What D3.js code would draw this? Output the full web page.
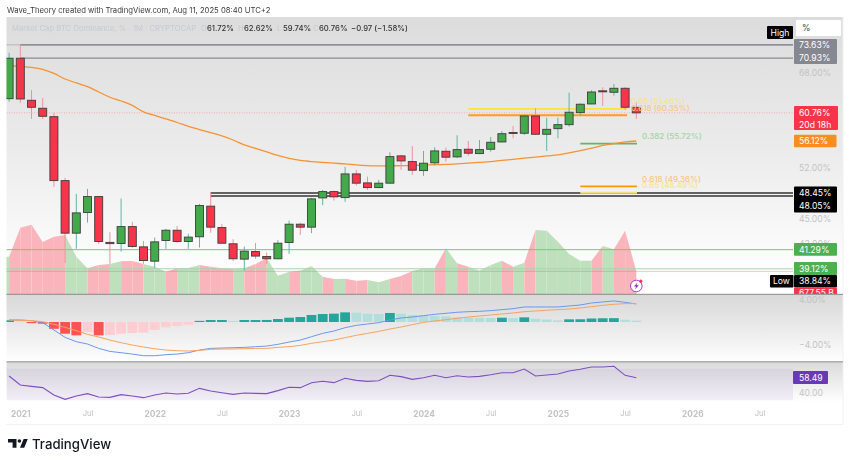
<!DOCTYPE html>
<html>
<head>
<meta charset="utf-8">
<script src="https://cdnjs.cloudflare.com/ajax/libs/d3/7.8.5/d3.min.js"></script>
<style>
  body { margin: 0; background: #fff; }
  svg { display: block; filter: blur(0.3px); font-family: Inter, "Noto Sans", sans-serif; }
</style>
</head>
<body>
<svg id="chart" width="850" height="463"></svg>
<script>
// monthly candles, Dec 2020 to Aug 2025
const opens = [63.24,70.9,62.96,61.56,60.11,50.18,43.26,45.85,47.97,42.15,42.01,44.07,41.62,39.97,42.37,43.62,42.25,42.82,46.69,43.95,41.98,40.2,41.07,40.5,40.24,42.13,44.37,44.0,47.79,48.65,47.83,51.14,49.86,49.2,49.82,53.81,52.95,51.62,52.76,54.52,53.66,54.83,54.16,54.83,55.97,57.49,57.36,60.23,57.2,58.11,58.77,60.8,62.31,64.66,64.4,65.13,61.72];
const highs = [72.0,73.63,64.81,63.37,60.75,50.57,48.34,49.02,48.06,43.38,47.7,44.66,42.33,42.73,43.79,44.16,43.18,46.99,48.57,44.41,42.53,41.66,42.09,40.96,42.41,44.82,44.57,47.79,48.88,48.78,52.16,51.72,50.75,50.28,54.37,53.96,55.34,54.57,55.14,55.08,57.04,56.12,56.28,56.76,57.73,58.55,60.23,61.56,59.94,59.94,64.32,62.43,64.76,65.31,65.93,65.37,62.62];
const lows = [62.7,62.49,59.72,59.72,49.3,39.78,41.39,44.57,41.98,39.67,41.07,41.51,39.67,39.22,41.39,42.09,41.39,41.54,43.3,42.03,40.01,38.92,40.24,39.67,40.2,40.81,43.05,43.26,46.82,47.43,47.26,49.48,48.88,49.12,49.76,51.72,51.0,50.86,52.36,52.95,53.46,53.81,54.07,54.46,55.92,56.55,57.08,57.08,54.56,56.55,58.44,60.29,62.26,61.96,63.78,61.26,59.74];
const closes = [70.9,63.19,61.73,60.18,50.18,43.26,45.81,47.97,42.25,42.0,44.07,41.66,40.04,42.21,43.62,42.25,42.78,46.77,44.0,42.05,40.24,41.12,40.55,40.24,42.05,44.37,44.0,47.66,48.65,47.93,51.14,49.82,49.2,49.82,53.7,53.05,51.68,52.71,54.57,53.61,54.77,54.22,54.77,55.92,57.29,57.33,60.23,57.2,58.0,58.77,60.87,62.26,64.45,64.48,65.13,61.73,60.76];
const ema = [69.46,69.26,69.07,68.68,67.91,66.86,66.11,65.42,64.45,63.5,62.83,62.05,60.92,60.32,59.72,59.13,58.5,57.97,57.46,56.92,56.28,55.5,54.95,54.42,53.88,53.43,53.13,52.95,52.83,52.71,52.61,52.46,52.36,52.31,52.31,52.34,52.38,52.41,52.49,52.53,52.61,52.71,52.83,52.95,53.13,53.28,53.46,53.63,53.81,53.96,54.27,54.61,55.0,55.42,55.7,55.97,56.12];
// market cap in billions, drawn as the shaded area
const volumes = [1119,1989,2079,1560,1719,1770,1119,771,870,900,981,990,900,819,669,771,780,870,819,771,750,771,900,1071,549,669,699,840,519,450,459,399,420,351,450,540,690,771,771,1371,921,819,699,870,999,819,939,1920,1899,1569,1200,999,999,1440,1341,1899,677.55];
const macd = [0.35,0.35,0.24,-0.12,-1.41,-2.71,-3.47,-3.88,-4.65,-5.18,-5.41,-5.65,-5.94,-5.94,-5.76,-5.65,-5.41,-4.94,-4.65,-4.59,-4.53,-4.47,-4.35,-4.24,-3.94,-3.53,-3.18,-2.59,-2.0,-1.59,-1.0,-0.59,-0.35,-0.12,0.35,0.71,0.88,1.12,1.35,1.53,1.71,1.82,1.88,2.0,2.18,2.35,2.65,2.65,2.65,2.65,2.82,3.0,3.35,3.53,3.71,3.47,3.18];
const signal = [0.35,0.29,0.24,0.06,-0.41,-0.94,-1.53,-2.18,-2.65,-3.18,-3.65,-4.06,-4.41,-4.71,-4.94,-5.06,-5.12,-5.0,-4.82,-4.76,-4.76,-4.71,-4.65,-4.65,-4.47,-4.35,-4.12,-3.76,-3.47,-3.18,-2.76,-2.35,-2.0,-1.65,-1.24,-0.88,-0.47,-0.06,0.18,0.41,0.65,0.88,1.06,1.24,1.41,1.59,1.82,1.94,2.06,2.18,2.29,2.47,2.71,2.94,3.12,3.24,3.24];
const hist = [0.3,0.1,-0.2,-0.3,-1.2,-2.06,-2.35,-1.76,-2.35,-2.3,-2.06,-1.94,-1.88,-1.41,-0.94,-0.7,-0.47,0.2,0.35,0.35,0.2,0.35,0.35,0.36,0.53,0.76,0.88,1.24,1.41,1.47,1.7,1.65,1.47,1.41,1.59,1.47,1.24,1.18,1.06,1.0,0.82,0.8,0.76,0.7,0.76,0.7,0.82,0.59,0.47,0.29,0.47,0.48,0.62,0.66,0.68,0.41,0.24];
const rsi = [60.6,49.2,47.5,45.9,36.6,31.1,35.3,38.3,34.0,33.6,37.0,35.3,33.2,36.6,39.1,37.8,38.7,45.0,41.6,39.5,37.4,39.1,38.7,38.3,42.1,46.3,45.9,52.2,53.9,52.2,57.7,55.1,53.9,54.7,61.5,59.8,56.4,58.5,61.5,58.5,61.0,59.4,60.2,62.3,64.8,64.8,69.5,60.6,61.9,63.2,67.0,69.1,72.0,72.0,72.9,61.5,58.49];

const timeTicks = [1,7,13,19,25,31,37,43,49,55,61,67];
const timeLabels = ['2021','Jul','2022','Jul','2023','Jul','2024','Jul','2025','Jul','2026','Jul'];
const priceTicks = [68,52,45,42];
const macdTicks = [4,-4];
const rsiTicks = [40];
const fibLevels = [
  ['0.65 (61.46%)', 61.46, '#ffe23b', '#f7e48c', 41, 55, 627],
  ['0.618 (60.35%)', 60.35, '#ff9d1e', '#f9c67f', 41, 55, 627],
  ['0.382 (55.72%)', 55.72, '#66b566', '#a5d3a5', 51, 56, 637],
  ['0.618 (49.36%)', 49.36, '#ff9800', '#f9c67f', 51, 56, 637],
  ['0.65 (48.49%)', 48.49, '#f2e07a', '#f7e48c', 51, 56, 637]
];

const left = 6.5, right = 843, axisX = 793;
const svg = d3.select('#chart');
const defs = svg.append('defs');

function gradient(id, stops) {
  let g = defs.append('linearGradient').attr('id', id).attr('x1', 0).attr('x2', 0).attr('y1', 0).attr('y2', 1);
  stops.forEach(s => g.append('stop').attr('offset', s[0]).attr('stop-color', s[1]));
}
gradient('bg1', [[0,'#dcdcdc'],[0.5,'#ececec'],[0.85,'#fbfbfb'],[0.95,'#ffffff']]);
gradient('bg2', [[0,'#d8d8d8'],[0.5,'#eaeaea'],[1,'#ffffff']]);
gradient('bg3', [[0,'#dadada'],[1,'#ffffff']]);

defs.append('clipPath').attr('id', 'pane1').append('rect').attr('x', left).attr('y', 17).attr('width', axisX - left).attr('height', 277);
defs.append('clipPath').attr('id', 'tagclip').append('rect').attr('x', left).attr('y', 17).attr('width', right - left).attr('height', 277);
defs.append('clipPath').attr('id', 'pane2').append('rect').attr('x', left).attr('y', 295).attr('width', axisX - left).attr('height', 66);
defs.append('clipPath').attr('id', 'pane3').append('rect').attr('x', left).attr('y', 363).attr('width', axisX - left).attr('height', 38);

// scales
const x = d3.scaleLinear().domain([0, 67]).range([9.1, 759.5]);
const y = d3.scaleLog().domain([52, 68]).range([168, 73]);
const yVol = d3.scaleLinear().domain([0, 3000]).range([294, 194]);
const yMacd = d3.scaleLinear().domain([-4, 4]).range([344.7, 299.3]);
const yRsi = d3.scaleLinear().domain([40, 58.49]).range([392.3, 377.7]);

// pane backgrounds
svg.append('rect').attr('x', left).attr('y', 17).attr('width', right - left).attr('height', 277).attr('fill', 'url(#bg1)');
svg.append('rect').attr('x', left).attr('y', 294).attr('width', right - left).attr('height', 68).attr('fill', 'url(#bg2)');
svg.append('rect').attr('x', left).attr('y', 362).attr('width', right - left).attr('height', 40).attr('fill', 'url(#bg3)');
svg.append('path').attr('d', `M${left} 424.5H${right}V17`).attr('fill', 'none').attr('stroke', '#f1f1f1');

// area under the candles, coloured month by month
const main = svg.append('g').attr('clip-path', 'url(#pane1)');
const area = d3.area().x(d => x(d[0])).y0(yVol(0)).y1(d => yVol(d[1]));
main.append('path').attr('d', area([[-0.3, volumes[0]], [0, volumes[0]]])).attr('fill', '#bfe0bd');
for(let i = 1; i < volumes.length; i++) {
  let up = closes[i] >= opens[i];
  main.append('path').attr('d', area([[i - 1, volumes[i - 1]], [i, volumes[i]]])).attr('fill', up ? '#bfe0bd' : '#f9b5bb');
}

// horizontal levels
function level(v, x1, color, width, dash) {
  main.append('line').attr('x1', x1).attr('x2', axisX).attr('y1', y(v)).attr('y2', y(v))
    .attr('stroke', color).attr('stroke-width', width).attr('stroke-dasharray', dash || null);
}
level(73.63, left, '#8c8c8c', 1, '1 1');
level(73.63, x(1), '#7f7f85', 1.3);
level(70.93, x(1), '#8a8a92', 1.3);
level(60.76, left, '#f4a0a6', 0.8, '1 1.5');
level(48.45, x(18), '#333', 1.5);
level(48.05, x(18), '#333', 1.5);
level(41.29, left, '#7fc27f', 1);
level(39.12, left, '#a5d5a5', 1);
level(38.84, left, '#8f8f8f', 0.8, '1 1');

// fib levels
fibLevels.forEach(f => {
  main.append('line').attr('x1', x(f[4])).attr('x2', f[6]).attr('y1', y(f[1])).attr('y2', y(f[1]))
    .attr('stroke', f[2]).attr('stroke-width', 1.8);
});

// orange moving average
const line = d3.line().x((d, i) => x(i)).y(d => y(d)).curve(d3.curveMonotoneX);
main.append('path').attr('d', line(ema)).attr('fill', 'none').attr('stroke', '#f7922e').attr('stroke-width', 1.3);

// candles
const candles = d3.range(opens.length);
main.selectAll('.wick').data(candles).join('line').attr('class', 'wick')
  .attr('x1', i => x(i)).attr('x2', i => x(i)).attr('y1', i => y(highs[i])).attr('y2', i => y(lows[i]))
  .attr('stroke', i => closes[i] >= opens[i] ? '#62b5a6' : '#f2929b').attr('stroke-width', 1);
main.selectAll('.body').data(candles).join('rect').attr('class', 'body')
  .attr('x', i => x(i) - 4).attr('width', 8)
  .attr('y', i => y(Math.max(opens[i], closes[i])))
  .attr('height', i => Math.max(0.6, Math.abs(y(opens[i]) - y(closes[i]))))
  .attr('fill', i => closes[i] >= opens[i] ? '#43a94b' : '#f7344a')
  .attr('stroke', '#3d3d3d').attr('stroke-width', 0.9);

// fib labels
fibLevels.forEach((f, i) => {
  let tx = i < 2 ? 631 : 642;
  svg.append('text').attr('x', tx).attr('y', y(f[1]) - 7.4).attr('dy', '.35em')
    .attr('font-size', 8).attr('font-weight', 500).attr('fill', f[3]).text(f[0]);
});

// right axes
function rightAxis(scale, values, fmt) {
  let g = svg.append('g').attr('transform', 'translate(799,0)')
    .call(d3.axisRight(scale).tickValues(values).tickSize(0).tickPadding(0).tickFormat(fmt));
  g.select('.domain').remove();
  g.selectAll('text').attr('font-family', 'Inter, sans-serif').attr('font-size', 8.6).attr('fill', '#c3c3c3');
}
const pct = d => (d < 0 ? '\u2212' : '') + Math.abs(d).toFixed(2) + '%';
rightAxis(y, priceTicks, pct);
rightAxis(yMacd, macdTicks, pct);
rightAxis(yRsi, rsiTicks, d => d.toFixed(2));

// price tags on the right axis
const tags = svg.append('g').attr('clip-path', 'url(#tagclip)');
function tagBox(x1, y1, w, h, color) {
  tags.append('rect').attr('x', x1).attr('y', y1).attr('width', w).attr('height', h).attr('rx', 1).attr('fill', color);
}
function tagText(tx, ty, txt, color) {
  tags.append('text').attr('x', tx).attr('y', ty).attr('dy', '.35em').attr('font-size', 8.6).attr('fill', color || '#fff').text(txt);
}
tagBox(796, 20, 45, 16, '#fff');
tagText(802, 28, '%', '#444');
tagBox(767, 26, 26, 13, '#000');
tagText(770.5, 32.5, 'High');
tagBox(794, 39, 43, 25, '#858791');
tagText(799, 45, '73.63%');
tagText(799, 58, '70.93%');
tagBox(794, 106, 44, 24, '#f7344a');
tagText(799, 113, '60.76%');
tagText(799, 124.5, '20d 18h');
tagBox(794, 134.7, 42.5, 12.5, '#fb8c1e');
tagText(799, y(ema[56]), '56.12%');
tagBox(794, 186.5, 43, 26, '#000');
tagText(799, 193, '48.45%');
tagText(799, 206, '48.05%');
tagBox(794, 243, 43, 12.7, '#4caf50');
tagText(799, 249.5, '41.29%');
tagBox(794, 262, 43, 13, '#4caf50');
tagText(799, 268.5, '39.12%');
tagBox(770, 275, 23.5, 12.5, '#000');
tagText(773, 281, 'Low');
tagBox(794, 275, 43, 12.5, '#000');
tagText(799, 281, '38.84%');
tagBox(794, 287.5, 43, 8, '#f7344a');
tagText(799, 292.5, '677.55 B');

// alert icon on the last candle
const icon = svg.append('g').attr('transform', `translate(${x(56)},286)`);
icon.append('circle').attr('r', 5.8).attr('fill', '#fff').attr('stroke', '#a83dc5').attr('stroke-width', 1);
icon.append('path').attr('d', 'M1.2 -3.6L-2.4 0.6H-0.2L-1.2 3.6L2.4 -0.8H0.2Z').attr('fill', '#9c27b0');
icon.append('circle').attr('cx', 4.5).attr('cy', -4.8).attr('r', 1.6).attr('fill', '#f7344a');

// pane separators
[294.3, 361.8].forEach(py => {
  svg.append('line').attr('x1', left).attr('x2', right).attr('y1', py).attr('y2', py).attr('stroke', '#8a8a8a').attr('stroke-width', 1);
});

// MACD pane
const pane2 = svg.append('g').attr('clip-path', 'url(#pane2)');
pane2.selectAll('.hist').data(hist).join('rect').attr('class', 'hist')
  .attr('x', (d, i) => x(i) - 4.9).attr('width', 9.8)
  .attr('y', d => d >= 0 ? yMacd(d) : yMacd(0))
  .attr('height', d => Math.abs(yMacd(d) - yMacd(0)))
  .attr('fill', (d, i) => {
    let rising = i === 0 || d >= hist[i - 1];
    if(d >= 0) { return rising ? '#26a69a' : '#b2dfdb'; }
    return rising ? '#ffcdd2' : '#ff5252';
  });
const macdLine = d3.line().x((d, i) => x(i)).y(d => yMacd(d));
pane2.append('path').attr('d', macdLine(macd)).attr('fill', 'none').attr('stroke', '#6d96f0').attr('stroke-width', 1);
pane2.append('path').attr('d', macdLine(signal)).attr('fill', 'none').attr('stroke', '#f7a35c').attr('stroke-width', 1);

// RSI pane
const pane3 = svg.append('g').attr('clip-path', 'url(#pane3)');
pane3.append('rect').attr('x', left).attr('width', axisX - left).attr('y', yRsi(70)).attr('height', yRsi(30) - yRsi(70))
  .attr('fill', '#7e57c2').attr('fill-opacity', 0.09);
const rsiLine = d3.line().x((d, i) => x(i)).y(d => yRsi(d));
pane3.append('path').attr('d', rsiLine(rsi)).attr('fill', 'none').attr('stroke', '#7e4fc0').attr('stroke-width', 1.1);
svg.append('rect').attr('x', 793).attr('y', 371).attr('width', 35).attr('height', 13).attr('rx', 1).attr('fill', '#673ab7');
svg.append('text').attr('x', 799).attr('y', yRsi(rsi[56])).attr('dy', '.35em').attr('font-size', 8.6).attr('fill', '#fff').text(rsi[56].toFixed(2));

// time axis
const timeAxis = svg.append('g').attr('transform', 'translate(0,411)')
  .call(d3.axisBottom(x).tickValues(timeTicks).tickSize(0).tickPadding(0).tickFormat((d, i) => timeLabels[i]));
timeAxis.select('.domain').remove();
timeAxis.selectAll('text').attr('font-family', 'Inter, sans-serif').attr('fill', '#c3c3c3')
  .attr('font-size', (d, i) => timeLabels[i] === 'Jul' ? 7.6 : 8.4)
  .attr('font-weight', (d, i) => timeLabels[i] === 'Jul' ? 400 : 700);

// header texts
svg.append('text').attr('x', 7).attr('y', 13).attr('font-size', 7.7).attr('fill', '#3a3a3a')
  .text('Wave_Theory created with TradingView.com, Aug 11, 2025 08:40 UTC+2');
svg.append('text').attr('x', 12).attr('y', 30.5).attr('font-size', 7.7).attr('fill', '#c6cad3')
  .text('Market Cap BTC Dominance, % \u00b7 1M \u00b7 CRYPTOCAP');
[['O', 201, '61.72%'], ['H', 238, '62.62%'], ['L', 277, '59.74%'], ['C', 313, '60.76%']].forEach(d => {
  svg.append('text').attr('x', d[1]).attr('y', 30.5).attr('font-size', 7.7).attr('fill', '#c6cad3').text(d[0]);
  svg.append('text').attr('x', d[1] + 6).attr('y', 30.5).attr('font-size', 7.7).attr('font-weight', 500).attr('fill', '#333').text(d[2]);
});
svg.append('text').attr('x', 351).attr('y', 30.5).attr('font-size', 7.7).attr('font-weight', 500).attr('fill', '#333')
  .text('\u22120.97 (\u22121.58%)');

// logo
const logo = svg.append('g').attr('fill', '#131722');
logo.append('path').attr('d', 'M8 439H16.5V447.8H12.6V442.6H8Z');
logo.append('circle').attr('cx', 19.4).attr('cy', 441).attr('r', 1.8);
logo.append('path').attr('d', 'M23.6 439H27.8L24.2 447.8H20Z');
logo.append('text').attr('x', 32).attr('y', 448.5).attr('font-size', 13.2).attr('font-weight', 500).text('TradingView');
</script>
</body>
</html>
